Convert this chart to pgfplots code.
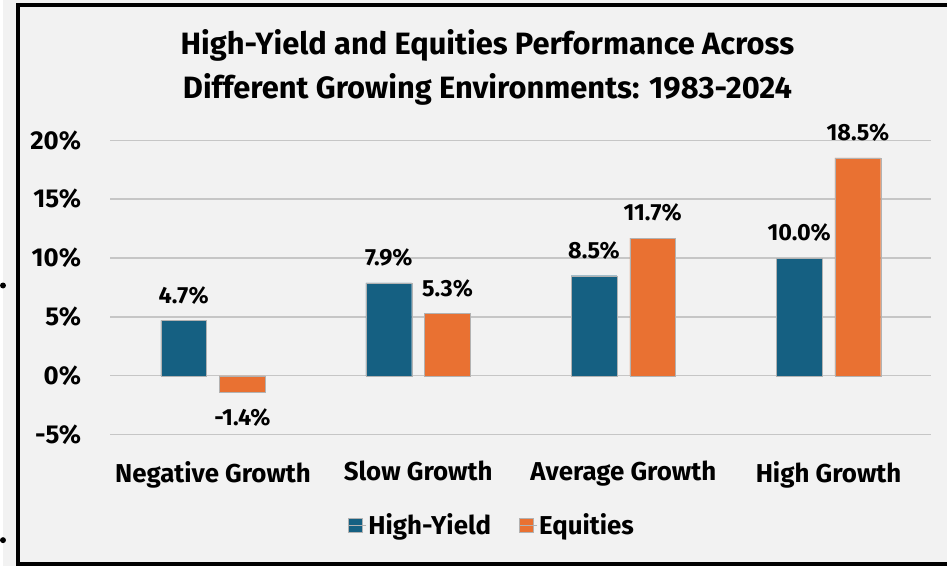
\documentclass[border=0pt]{standalone}
\usepackage{fontspec}
\setmainfont{Fira Sans}
\usepackage{pgfplots}
\pgfplotsset{compat=1.18}
\definecolor{hy}{HTML}{156082}
\definecolor{eq}{HTML}{E97132}
\definecolor{bg}{HTML}{F2F2F2}
\definecolor{gridc}{HTML}{C6C6C6}
\begin{document}
\begin{tikzpicture}[x=1pt,y=1pt]
\fill[bg] (0,0) rectangle (949,569);
\draw[black, line width=4pt] (949,564) -- (15,564) -- (15,2) -- (949,2);
\fill[black] (0,282) circle (3);
\fill[black] (0,26) circle (3);
\node[align=center, font=\fontsize{31}{44}\selectfont\bfseries] at (487,501) {High-Yield and Equities Performance Across\\Different Growing Environments: 1983-2024};
\begin{axis}[
  at={(108pt,132pt)}, anchor=south west,
  scale only axis, width=825pt, height=296pt,
  xmin=-0.5, xmax=3.5, ymin=-5, ymax=20,
  ytick={-5,0,5,10,15,20},
  yticklabel={\pgfmathprintnumber{\tick}\%},
  xtick={0,1,2,3},
  xticklabels={Negative Growth, Slow Growth, Average Growth, High Growth},
  axis line style={draw=none},
  major tick length=0pt,
  ymajorgrids, grid style={gridc, line width=1.3pt},
  tick label style={font=\fontsize{26}{30}\selectfont\bfseries},
  /pgf/number format/assume math mode=true,
  yticklabel style={anchor=east, xshift=-26pt},
  xticklabel style={anchor=north, yshift=-23pt},
  ybar, bar width=46pt,
  nodes near coords={\pgfmathprintnumber[fixed, fixed zerofill, precision=1, assume math mode=true]{\pgfplotspointmeta}\%},
  every node near coord/.append style={font=\fontsize{23.5}{27}\selectfont\bfseries, inner ysep=16pt, inner xsep=0pt, black},
  legend style={at={(0.465,-0.307)}, anchor=center, draw=none, fill=none,
    font=\fontsize{26}{30}\selectfont\bfseries, legend columns=2,
    /tikz/every even column/.append style={column sep=26pt}},
  legend image code/.code={\fill[#1] (0pt,-7pt) rectangle (14pt,7pt); \path (0pt,0pt) -- (18pt,0pt);},
]
\addplot[fill=hy, draw=gray!60, line width=0.4pt, bar shift=-29.5pt] coordinates {(0,4.7) (1,7.9) (2,8.5) (3,10.0)};
\addplot[fill=eq, draw=gray!60, line width=0.4pt, bar shift=29.5pt] coordinates {(0,-1.4) (1,5.3) (2,11.7) (3,18.5)};
\legend{High-Yield, Equities}
\end{axis}
\end{tikzpicture}
\end{document}
